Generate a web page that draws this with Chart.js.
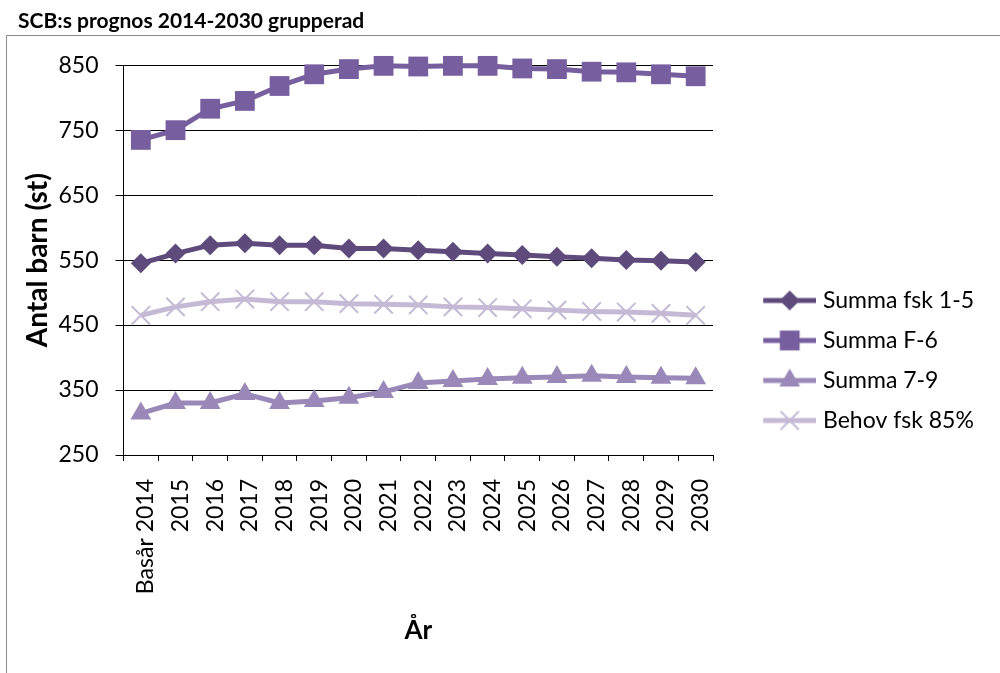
<!DOCTYPE html>
<html>
<head>
<meta charset="utf-8">
<script src="https://cdn.jsdelivr.net/npm/chart.js@4/dist/chart.umd.min.js"></script>
<style>
  html, body { margin: 0; padding: 0; background: #fff; }
  #wrap { position: relative; width: 1000px; height: 673px; overflow: hidden; }
  #frame { position: absolute; left: 6px; top: 35px; width: 1100px; height: 800px; border: 1px solid #8c8c8c; }
  canvas { position: absolute; left: 0; top: 0; }
</style>
</head>
<body>
<div id="wrap">
  <div id="frame"></div>
  <canvas id="chart" width="1000" height="673"></canvas>
</div>
<script>
// x categories
var years = ["Basår 2014", "2015", "2016", "2017", "2018", "2019", "2020", "2021", "2022",
             "2023", "2024", "2025", "2026", "2027", "2028", "2029", "2030"];

// series
var summaFsk15 = [545, 560, 573, 576, 573, 573, 568, 568, 565, 563, 560, 558, 555, 553, 550, 549, 547];
var summaF6    = [735, 750, 783, 795, 818, 836, 844, 849, 848, 849, 849, 845, 844, 840, 839, 836, 833];
var summa79    = [314, 330, 330, 344, 330, 333, 338, 347, 361, 364, 367, 369, 370, 372, 370, 369, 368];
var behovFsk85 = [465, 478, 486, 490, 486, 486, 483, 482, 481, 478, 477, 475, 473, 471, 470, 468, 465];

var seriesNames = ["Summa fsk 1-5", "Summa F-6", "Summa 7-9", "Behov fsk 85%"];

// y ticks
var yMin = 250, yMax = 850, yStep = 100;

var colors = ["#5f4a7c", "#775e9e", "#9a88b8", "#c5bad6"];

// draws a marker like the ones on the lines, for the legend icons
function drawMarker(g, style, x, y, r) {
  g.beginPath();
  if (style === "rectRot") {
    g.moveTo(x - r, y); g.lineTo(x, y - r); g.lineTo(x + r, y); g.lineTo(x, y + r);
    g.closePath(); g.fill();
  } else if (style === "rect") {
    var s = r * Math.SQRT1_2;
    g.rect(x - s, y - s, 2 * s, 2 * s); g.fill();
  } else if (style === "triangle") {
    g.moveTo(x, y - r);
    g.lineTo(x + r * Math.sqrt(3) / 2, y + r / 2);
    g.lineTo(x - r * Math.sqrt(3) / 2, y + r / 2);
    g.closePath(); g.fill();
  } else if (style === "crossRot") {
    var d = r * Math.SQRT1_2;
    g.moveTo(x - d, y - d); g.lineTo(x + d, y + d);
    g.moveTo(x + d, y - d); g.lineTo(x - d, y + d);
    g.lineWidth = 2; g.stroke();
  }
}

function legendIcon(color, style, r) {
  var c = document.createElement("canvas");
  c.width = 91; c.height = 30;
  var g = c.getContext("2d");
  g.strokeStyle = color; g.fillStyle = color;
  g.lineWidth = 5;
  g.beginPath(); g.moveTo(38, 15); g.lineTo(91, 15); g.stroke();
  drawMarker(g, style, 64.5, 15, r);
  return c;
}

var styles = ["rectRot", "rect", "triangle", "crossRot"];
var radii = [10, 14, 12, 13];
var icons = styles.map(function (s, i) { return legendIcon(colors[i], s, radii[i]); });

function lineSet(label, data, i) {
  return {
    label: label,
    data: data,
    borderColor: colors[i],
    backgroundColor: colors[i],
    borderWidth: 5,
    pointStyle: styles[i],
    pointRadius: radii[i],
    pointHoverRadius: radii[i],
    pointBackgroundColor: colors[i],
    pointBorderColor: colors[i],
    pointBorderWidth: styles[i] === "crossRot" ? 2 : 0,
    tension: 0,
    clip: false
  };
}

var ctx = document.getElementById("chart");

var config = {
  type: "line",
  data: {
    labels: years,
    datasets: [
      lineSet(seriesNames[0], summaFsk15, 0),
      lineSet(seriesNames[1], summaF6, 1),
      lineSet(seriesNames[2], summa79, 2),
      lineSet(seriesNames[3], behovFsk85, 3)
    ]
  },
  options: {
    responsive: false,
    animation: false,
    layout: { padding: { left: 18, right: 0, top: 0, bottom: 0 } },
    plugins: {
      title: {
        display: true,
        text: "SCB:s prognos 2014-2030 grupperad",
        align: "start",
        color: "#000",
        font: { family: "Lato", size: 21, weight: "bold" },
        padding: { top: 9, bottom: 31 }
      },
      legend: {
        position: "right",
        labels: {
          usePointStyle: true,
          pointStyleWidth: 81.5,
          padding: 17,
          color: "#000",
          font: { family: "Lato", size: 23 },
          generateLabels: function (chart) {
            var items = Chart.defaults.plugins.legend.labels.generateLabels(chart);
            items.forEach(function (it, i) { it.pointStyle = icons[i]; });
            return items;
          }
        }
      },
      tooltip: { enabled: false }
    },
    scales: {
      x: {
        type: "category",
        offset: true,
        grid: { offset: true, drawOnChartArea: false, drawTicks: true, tickLength: 6, color: "#000" },
        border: { display: true, color: "#000", width: 1 },
        ticks: {
          autoSkip: false, minRotation: 90, maxRotation: 90, padding: 18, labelOffset: 5,
          color: "#000", font: { family: "Lato", size: 23 }
        },
        title: {
          display: true, text: "År", color: "#000",
          font: { family: "Lato", size: 26, weight: "bold" },
          padding: { top: 0, bottom: 27 }
        },
        afterFit: function (scale) { scale.height = 218; }
      },
      y: {
        min: yMin, max: yMax,
        grid: { color: "#000", lineWidth: 1, drawTicks: true, tickLength: 8 },
        border: { display: true, color: "#000", width: 1 },
        ticks: {
          stepSize: yStep, padding: 17,
          color: "#000", font: { family: "Lato", size: 23 }
        },
        title: {
          display: true, text: "Antal barn (st)", color: "#000",
          font: { family: "Lato", size: 28, weight: "bold" },
          padding: { top: 3, bottom: 0 }
        },
        afterFit: function (scale) { scale.width = 105.5; }
      }
    }
  },
  plugins: [{
    id: "legendPlace",
    beforeInit: function (chart) {
      var fit = chart.legend.fit;
      chart.legend.fit = function () {
        fit.bind(chart.legend)();
        this.width = 287;
      };
    },
    afterLayout: function (chart) {
      chart.legend.top += 48;
    }
  }]
};

var chartSCB = new Chart(ctx, config);
</script>
</body>
</html>
